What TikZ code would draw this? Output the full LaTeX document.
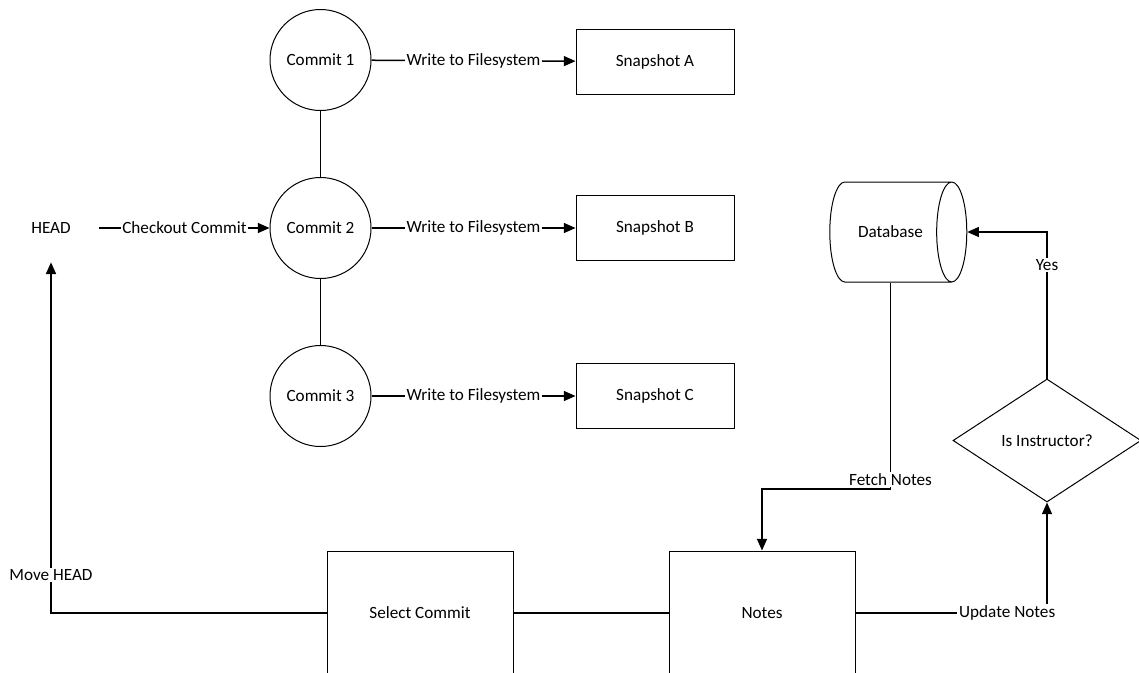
\documentclass[tikz,border=0pt]{standalone}
\usepackage{fontspec}
\setmainfont{Carlito}
\usetikzlibrary{shapes.geometric,arrows.meta}

\tikzset{
  testo/.style={font=\fontsize{10.3}{12}\selectfont},
  commit/.style={testo, draw, circle, line width=0.6pt, minimum size=60.6pt, inner sep=0pt},
  snap/.style={testo, draw, rectangle, line width=0.6pt, minimum width=94.8pt, minimum height=39pt},
  blocco/.style={testo, draw, rectangle, line width=0.6pt, minimum width=111.6pt, minimum height=74.4pt},
  etichetta/.style={testo, fill=white, inner sep=1pt},
  conn/.style={line width=0.9pt},
  freccia/.style={conn, -{Triangle[length=7pt,width=6pt]}},
}

\begin{document}
\begin{tikzpicture}[x=0.6pt, y=-0.6pt]
        \useasboundingbox (0,0) rectangle (1139,672);

        % Commit
        \node[commit] (c1) at (320.5,60) {Commit 1};
        \node[commit] (c2) at (320.5,228) {Commit 2};
        \node[commit] (c3) at (320.5,396) {Commit 3};
        \draw[conn] (c1) -- (c2);
        \draw[conn] (c2) -- (c3);

        % Snapshot
        \node[snap] (snapA) at (655,61.5) {Snapshot A};
        \node[snap] (snapB) at (655,228) {Snapshot B};
        \node[snap] (snapC) at (655,396) {Snapshot C};
        \draw[freccia] (c1) -- node[etichetta] (w1) {Write to Filesystem} (snapA);
        \draw[freccia] (c2) -- node[etichetta] (w2) {Write to Filesystem} (snapB);
        \draw[freccia] (c3) -- node[etichetta] (w3) {Write to Filesystem} (snapC);

        % HEAD
        \node[testo, minimum width=57.6pt, minimum height=40.8pt] (head) at (51,228) {HEAD};
        \draw[freccia] (head) -- node[etichetta] (chk) {Checkout Commit} (c2);

        % Blocchi in basso
        \node[blocco] (select) at (420,613) {Select Commit};
        \node[blocco] (notes) at (762,613) {Notes};
        \draw[conn] (select) -- (notes);
        \draw[freccia] (select.west) -| node[etichetta, pos=0.554] (mv) {Move HEAD} (head.south);

        % Database e decisione
        \node[testo, draw, cylinder, aspect=2.5, line width=0.6pt, minimum height=82.2pt,
              minimum width=60pt, inner sep=0pt] (db) at (890.5,232) {Database};
        \node[testo, draw, diamond, line width=0.6pt, minimum width=112.8pt,
              minimum height=73.8pt, inner sep=0pt] (dia) at (1047,440.5) {Is Instructor?};
        \coordinate (fetch) at (db.south |- 0,489);
        \draw[freccia] (db.south) -- node[etichetta, pos=0.955] (fn) {Fetch Notes} (fetch) -| (notes.north);
        \draw[freccia] (notes.east) -| node[etichetta, pos=0.396] (up) {Update Notes} (dia.south);
        \draw[freccia] (dia.north) |- node[etichetta, pos=0.388] (yes) {Yes} (db.east);
    \end{tikzpicture}
\end{document}
